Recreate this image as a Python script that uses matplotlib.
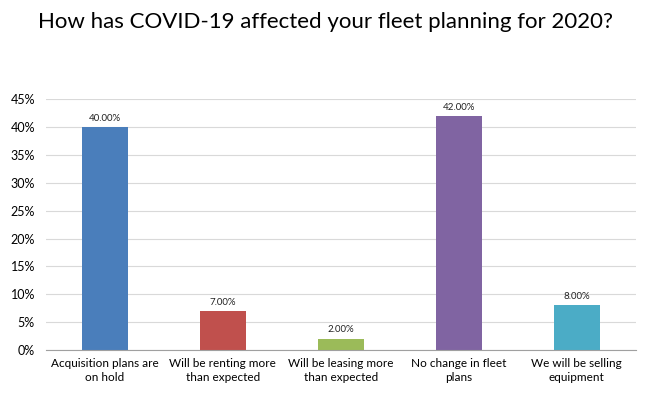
import matplotlib
matplotlib.use("Agg")
import matplotlib.pyplot as plt
from matplotlib.ticker import FuncFormatter

categories = ["Acquisition plans are\non hold", "Will be renting more\nthan expected",
              "Will be leasing more\nthan expected", "No change in fleet\nplans",
              "We will be selling\nequipment"]
values = [40.0, 7.0, 2.0, 42.0, 8.0]
colors = ["#4a7ebb", "#c0504d", "#9bbb59", "#8064a2", "#4bacc6"]
yticks = [0, 5, 10, 15, 20, 25, 30, 35, 40, 45]

plt.rcParams['font.family'] = ['Lato', 'DejaVu Sans']
fig = plt.figure(figsize=(6.5, 3.98), dpi=100)
ax = fig.add_axes([0.0708, 0.1206, 0.907, 0.630])
x = list(range(len(categories)))
bars = ax.bar(x, values, width=0.39, color=colors, zorder=3)
for xi, v in zip(x, values):
    ax.text(xi, v + 0.8, f"{v:.2f}%", ha="center", va="bottom", fontsize=7, color="#222222")
ax.set_xlim(-0.5, len(categories) - 0.5)
ax.set_ylim(0, 45)
ax.set_yticks(yticks)
ax.yaxis.set_major_formatter(FuncFormatter(lambda v, p: f"{v:.0f}%"))
ax.set_xticks(x)
ax.set_xticklabels(categories, fontsize=8.5, linespacing=1.3)
ax.tick_params(axis="y", labelsize=9, length=0, pad=8)
ax.tick_params(axis="x", length=0, pad=6)
ax.grid(axis="y", color="#d9d9d9", linewidth=0.8, zorder=0)
for s in ["top", "right", "left"]:
    ax.spines[s].set_visible(False)
ax.spines["bottom"].set_color("#a0a0a0")
ax.spines["bottom"].set_zorder(4)
fig.text(0.5, 0.945, "How has COVID-19 affected your fleet planning for 2020?",
         ha="center", va="center", fontsize=16, color="#000000")
fig.savefig("out.png", dpi=100)
